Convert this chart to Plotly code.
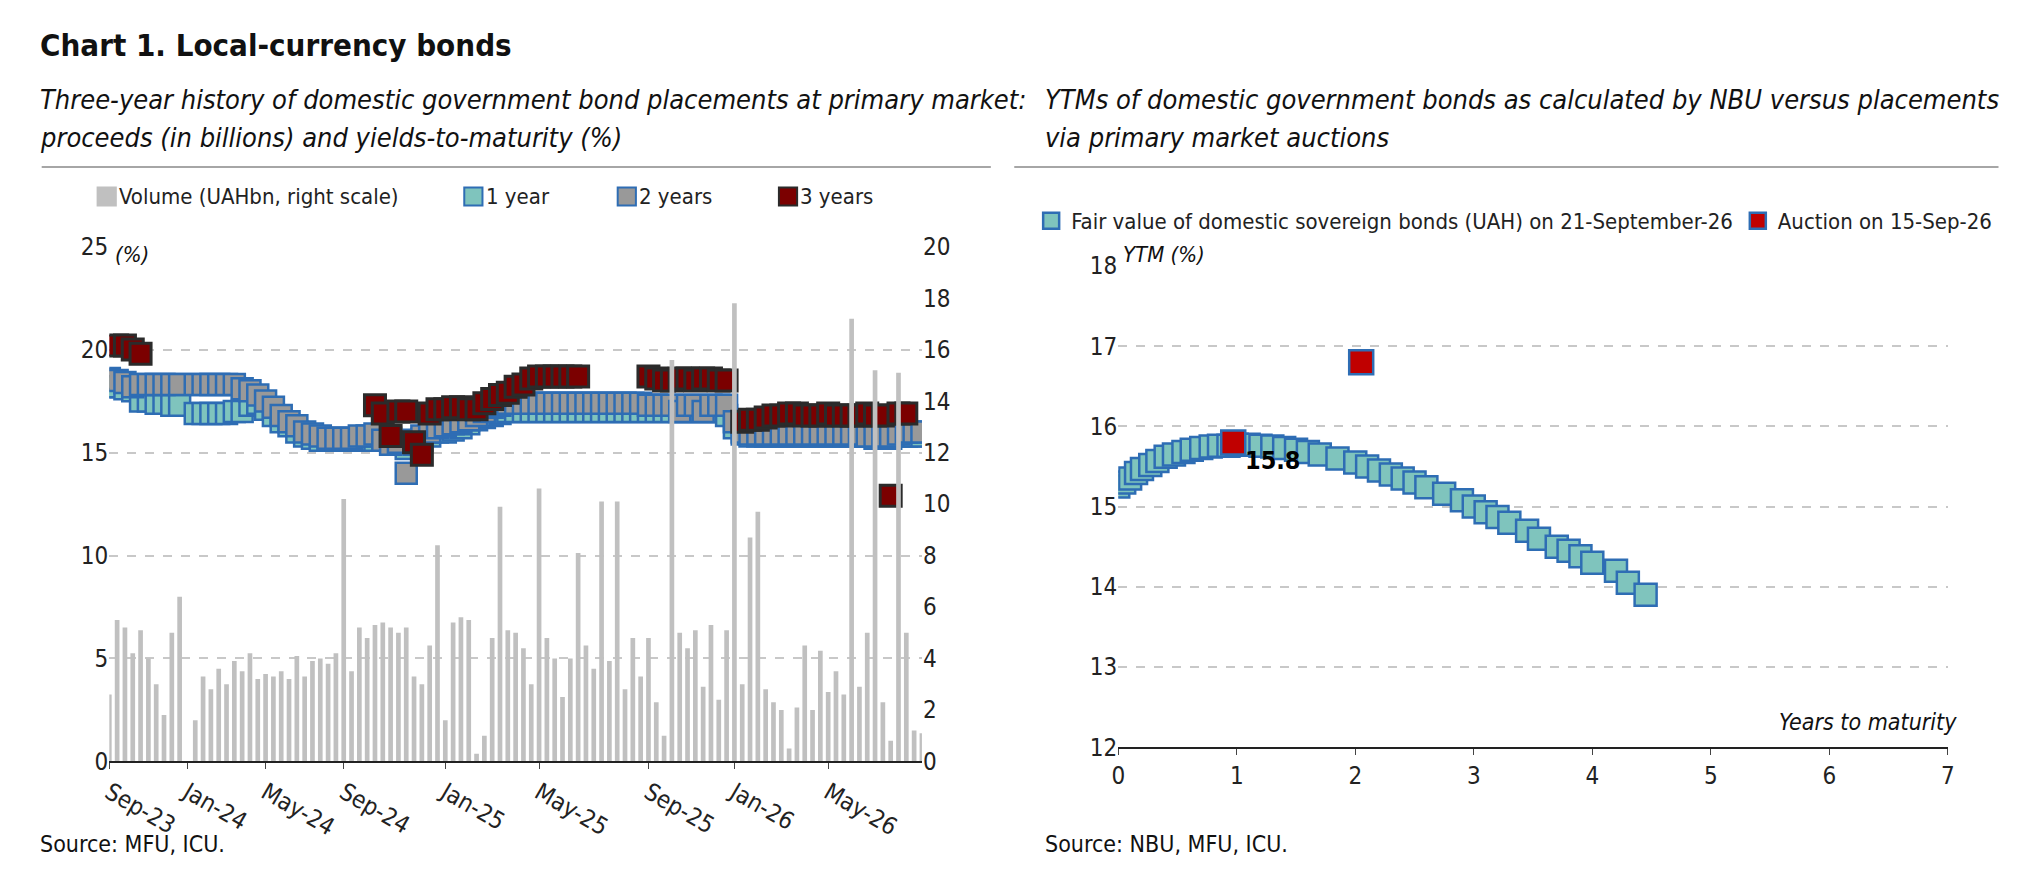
import plotly.graph_objects as go

W, H = 1560.0, 681.0  # reference layout units
def px(x): return ((x - 26) / 0.989) / W
def py(y): return 1 - ((y - 15) / 0.978) / H

FONT = "Liberation Sans Narrow, DejaVu Sans Condensed, Roboto, sans-serif"

# ---------------- data: left chart (auction index axis) ----------------
tick_idx = [0, 10, 20, 30, 43, 55, 69, 80, 92]
tick_lbl = ["Sep-23", "Jan-24", "May-24", "Sep-24", "Jan-25", "May-25", "Sep-25", "Jan-26", "May-26"]

volume = [2.6, 5.5, 5.2, 4.2, 5.1, 4.0, 3.0, 1.8, 5.0, 6.4, 0.0, 1.6, 3.3, 2.8, 3.6, 3.0, 3.9, 3.5, 4.2, 3.2,
          3.4, 3.3, 3.5, 3.2, 4.1, 3.3, 3.9, 4.0, 3.8, 4.2, 10.2, 3.5, 5.2, 4.8, 5.3, 5.4, 5.2, 5.0, 5.2, 3.3,
          3.0, 4.5, 8.4, 1.6, 5.4, 5.6, 5.5, 0.3, 1.0, 4.8, 9.9, 5.1, 5.0, 4.4, 3.0, 10.6, 4.8, 4.0, 2.5, 4.0,
          8.1, 4.5, 3.6, 10.1, 3.9, 10.1, 2.8, 4.8, 3.3, 4.8, 2.3, 1.0, 15.6, 5.0, 4.4, 5.1, 2.9, 5.3, 2.4, 5.1,
          17.8, 3.0, 8.7, 9.7, 2.8, 2.3, 2.0, 0.5, 2.1, 4.5, 2.0, 4.3, 2.7, 3.5, 2.6, 17.2, 2.9, 5.0, 15.2, 2.3,
          0.8, 15.1, 5.0, 1.2, 1.1]

y1 = [18.2, 18.2, 18.1, 18.0, 17.5, 17.5, 17.4, 17.4, 17.3, 17.3, None, 16.9, 16.9, 16.9, 16.9, 16.9, 17.0, 17.0, 17.3, 17.4,
      17.1, 16.8, 16.5, 16.3, 16.0, 15.8, 15.7, 15.6, 15.6, 15.6, 15.6, 15.6, 15.6, 15.6, 15.6, 15.8, 15.7, 15.5, 15.2, 15.4,
      15.6, 15.8, 16.0, 16.0, 16.1, 16.2, 16.4, 16.6, 16.7, 16.8, 16.9, 17.0, 17.0, 17.0, 17.0, 17.0, 17.0, 17.0, 17.0, 17.0,
      17.0, 17.0, 17.0, 17.0, 17.0, 17.0, 17.0, 17.0, 17.0, 17.0, 17.0, 17.0, 17.0, 17.0, 17.0, 17.0, 17.0, 17.0, 17.0, 16.8,
      16.2, 15.9, 15.8, 15.8, 15.8, 15.8, 15.8, 15.8, 15.8, 15.8, 15.8, 15.8, 15.8, 15.8, 15.8, 15.8, 15.8, 15.8, 15.7, 15.7,
      15.7, 15.8, 15.8, 15.8, 15.8]
y2 = [18.6, 18.5, 18.4, 18.2, 18.3, 18.3, 18.3, 18.3, 18.3, 18.3, None, 18.3, 18.3, 18.3, 18.3, 18.3, 18.3, 18.1, 18.0, 17.8,
      17.5, 17.2, 16.8, 16.5, 16.3, 16.0, 15.9, 15.8, 15.7, 15.7, 15.7, 15.7, 15.8, 15.8, 15.9, 15.6, 15.4, 15.5, 14.0, 15.6,
      15.8, 16.0, 16.2, 16.3, 16.4, 16.5, 16.6, 16.8, 17.0, 17.2, 17.3, 17.4, 17.4, 17.4, 17.4, 17.4, 17.4, 17.4, 17.4, 17.4,
      17.4, 17.4, 17.4, 17.4, 17.4, 17.4, 17.4, 17.4, 17.4, 17.3, 17.3, 17.3, 17.3, 17.0, 17.3, 17.3, 17.0, 17.3, 17.3, 17.3,
      16.5, 16.0, 15.9, 15.9, 15.9, 15.9, 15.9, 15.9, 15.9, 15.9, 15.9, 15.9, 15.9, 15.9, 15.9, 15.9, 15.9, 15.8, 15.8, 15.8,
      15.8, 15.9, 16.0, 16.0, 16.0]
y3 = [None, 20.2, 20.2, 20.0, 19.8] + [None] * 29 + [17.3, 16.9, 15.8, 17.0, 17.0, 15.5, 14.9, 16.9, 17.1, 17.1, 17.2, 17.2,
      17.1, 17.1, 17.4, 17.6, 17.8, 17.9, 18.2, 18.3, 18.6, 18.7, 18.7, 18.7, 18.7, 18.7, 18.7] + [None] * 8 + \
     [18.7, 18.6, 18.5, 18.5, 18.6, 18.6, 18.5, 18.6, 18.6, 18.5, 18.5] + [None, 16.5, 16.6, 16.6, 16.7, 16.8, 16.8, 16.9,
      16.9, 16.8, 16.8, 16.8, 16.9, 16.8, 16.8, 16.8, 16.8, 16.9, 16.8, 16.8, 12.9, 16.9, 16.9]

# ---------------- data: right chart ----------------
fv_x = [0.0, 0.05, 0.1, 0.15, 0.2, 0.27, 0.33, 0.4, 0.47, 0.55, 0.62, 0.7, 0.78, 0.85, 0.93, 1.0, 1.1, 1.2, 1.3, 1.4,
        1.5, 1.6, 1.7, 1.85, 2.0, 2.1, 2.2, 2.3, 2.4, 2.5, 2.6, 2.75, 2.9, 3.0, 3.1, 3.2, 3.3, 3.45, 3.55, 3.7,
        3.8, 3.9, 4.0, 4.2, 4.3, 4.45]
fv_y = [15.25, 15.3, 15.35, 15.42, 15.47, 15.52, 15.57, 15.62, 15.65, 15.68, 15.71, 15.73, 15.75, 15.76, 15.76, 15.77, 15.77, 15.76, 15.75, 15.73,
        15.71, 15.68, 15.65, 15.6, 15.55, 15.5, 15.45, 15.4, 15.35, 15.3, 15.24, 15.16, 15.08, 15.0, 14.93, 14.87, 14.8, 14.7, 14.6, 14.5,
        14.45, 14.38, 14.3, 14.2, 14.05, 13.9]
auc_x = [0.97, 2.05]
auc_y = [15.8, 16.8]

left_legend = ["Volume (UAHbn, right scale)", "1 year", "2 years", "3 years"]

C_VOL, C_1Y, C_2Y, C_3Y = "#c0c0c0", "#7fc4bd", "#999999", "#7b0000"
BLUE = "#2e6db4"

fig = go.Figure()
fig.add_trace(go.Bar(x=list(range(len(volume))), y=volume, yaxis="y2", name=left_legend[0], showlegend=False,
                     marker=dict(color=C_VOL, line=dict(width=0)), width=0.6))
fig.add_trace(go.Scatter(x=list(range(len(y1))), y=y1, mode="markers", name=left_legend[1], showlegend=False,
                         marker=dict(symbol="square", size=21, color=C_1Y, line=dict(color=BLUE, width=2.5))))
fig.add_trace(go.Scatter(x=list(range(len(y2))), y=y2, mode="markers", name=left_legend[2], showlegend=False,
                         marker=dict(symbol="square", size=21, color=C_2Y, line=dict(color=BLUE, width=2.5))))
fig.add_trace(go.Scatter(x=list(range(len(y3))), y=y3, mode="markers", name=left_legend[3], showlegend=False,
                         marker=dict(symbol="square", size=21, color=C_3Y, line=dict(color="#2b2b2b", width=3))))
fig.add_trace(go.Scatter(x=fv_x, y=fv_y, xaxis="x3", yaxis="y3", mode="markers", legend="legend2",
                         name="Fair value of domestic sovereign bonds (UAH) on 21-September-26",
                         marker=dict(symbol="square", size=22, color=C_1Y, line=dict(color=BLUE, width=2.5))))
fig.add_trace(go.Scatter(x=auc_x, y=auc_y, xaxis="x3", yaxis="y3", mode="markers", legend="legend2",
                         name="Auction on 15-Sep-26",
                         marker=dict(symbol="square", size=24, color="#c00000", line=dict(color=BLUE, width=2.5))))

tickf = dict(family=FONT, size=24, color="#222")
grid = dict(showgrid=True, gridcolor="#c8c8c8", griddash="dash", gridwidth=1.5, zeroline=False)
fig.update_layout(
    width=2022, height=883, paper_bgcolor="white", plot_bgcolor="white",
    margin=dict(l=0, r=0, t=0, b=0), font=dict(family=FONT, size=22, color="#222"),
    showlegend=True, barmode="overlay",
    xaxis=dict(domain=[px(97), px(722)], range=[0, 104], tickvals=tick_idx, ticktext=tick_lbl,
               showline=True, linecolor="#222", linewidth=1.5, ticks="outside", ticklen=6, tickfont=tickf,
               showgrid=False, zeroline=False, anchor="y"),
    yaxis=dict(domain=[py(591), py(190)], range=[0, 25], dtick=5, tickfont=tickf, **grid, anchor="x"),
    yaxis2=dict(overlaying="y", side="right", range=[0, 20], dtick=2, tickfont=tickf, showgrid=False,
                zeroline=False, anchor="x"),
    xaxis3=dict(domain=[px(873), px(1511)], range=[0, 7], dtick=1, tickfont=tickf, showline=True,
                linecolor="#222", linewidth=1.5, ticks="outside", ticklen=6, showgrid=False, zeroline=False,
                anchor="y3"),
    yaxis3=dict(domain=[py(580), py(205)], range=[12, 18], dtick=1, tickfont=tickf, **grid, anchor="x3"),
    legend2=dict(orientation="h", x=px(806), y=py(170), yanchor="middle", xanchor="left",
                 font=dict(family=FONT, size=22), itemwidth=30),
)

# left legend drawn manually (uneven spacing in the reference)
leg_x = [88, 370, 488, 612]
leg_fill = [C_VOL, C_1Y, C_2Y, C_3Y]
leg_line = [C_VOL, BLUE, BLUE, "#2b2b2b"]
for lx, lab, fc, lc in zip(leg_x, left_legend, leg_fill, leg_line):
    fig.add_shape(type="rect", xref="paper", yref="paper", x0=px(lx), x1=px(lx + 14), y0=py(158), y1=py(144),
                  fillcolor=fc, line=dict(color=lc, width=2))
    fig.add_annotation(text=lab, x=px(lx + 15), y=py(151), xref="paper", yref="paper", xanchor="left",
                       yanchor="middle", showarrow=False, font=dict(family=FONT, size=22, color="#222"))

ann = [
    dict(text="<b>Chart 1. Local-currency bonds</b>", x=px(42), y=py(33), size=31),
    dict(text="<i>Three-year history of domestic government bond placements at primary market:</i>", x=px(42), y=py(75), size=27),
    dict(text="<i>proceeds (in billions) and yields-to-maturity (%)</i>", x=px(42), y=py(105), size=27),
    dict(text="<i>YTMs of domestic government bonds as calculated by NBU versus placements</i>", x=px(815), y=py(75), size=27),
    dict(text="<i>via primary market auctions</i>", x=px(815), y=py(105), size=27),
    dict(text="<i>(%)</i>", x=px(100), y=py(196), size=22),
    dict(text="<i>YTM (%)</i>", x=px(875), y=py(196), size=22),
    dict(text="Source: MFU, ICU.", x=px(42), y=py(655), size=23),
    dict(text="Source: NBU, MFU, ICU.", x=px(815), y=py(655), size=23),
]
for a in ann:
    fig.add_annotation(text=a["text"], x=a["x"], y=a["y"], xref="paper", yref="paper", xanchor="left",
                       yanchor="middle", showarrow=False, font=dict(family=FONT, size=a["size"], color="#111"))
fig.add_annotation(text="<i>Years to maturity</i>", x=px(1520), y=py(560), xref="paper", yref="paper",
                   xanchor="right", yanchor="middle", showarrow=False, font=dict(family=FONT, size=23, color="#111"))
fig.add_annotation(text="<b>15.8</b>", x=1.05, y=15.8, xref="x3", yref="y3", xanchor="left", yanchor="top",
                   yshift=-2, showarrow=False, font=dict(family=FONT, size=25, color="#000"))
for x0, x1 in [(45, 775), (793, 1550)]:
    fig.add_shape(type="line", xref="paper", yref="paper", x0=px(x0), x1=px(x1), y0=py(128), y1=py(128),
                  line=dict(color="#888", width=1.5))

fig.write_html("out.html")
